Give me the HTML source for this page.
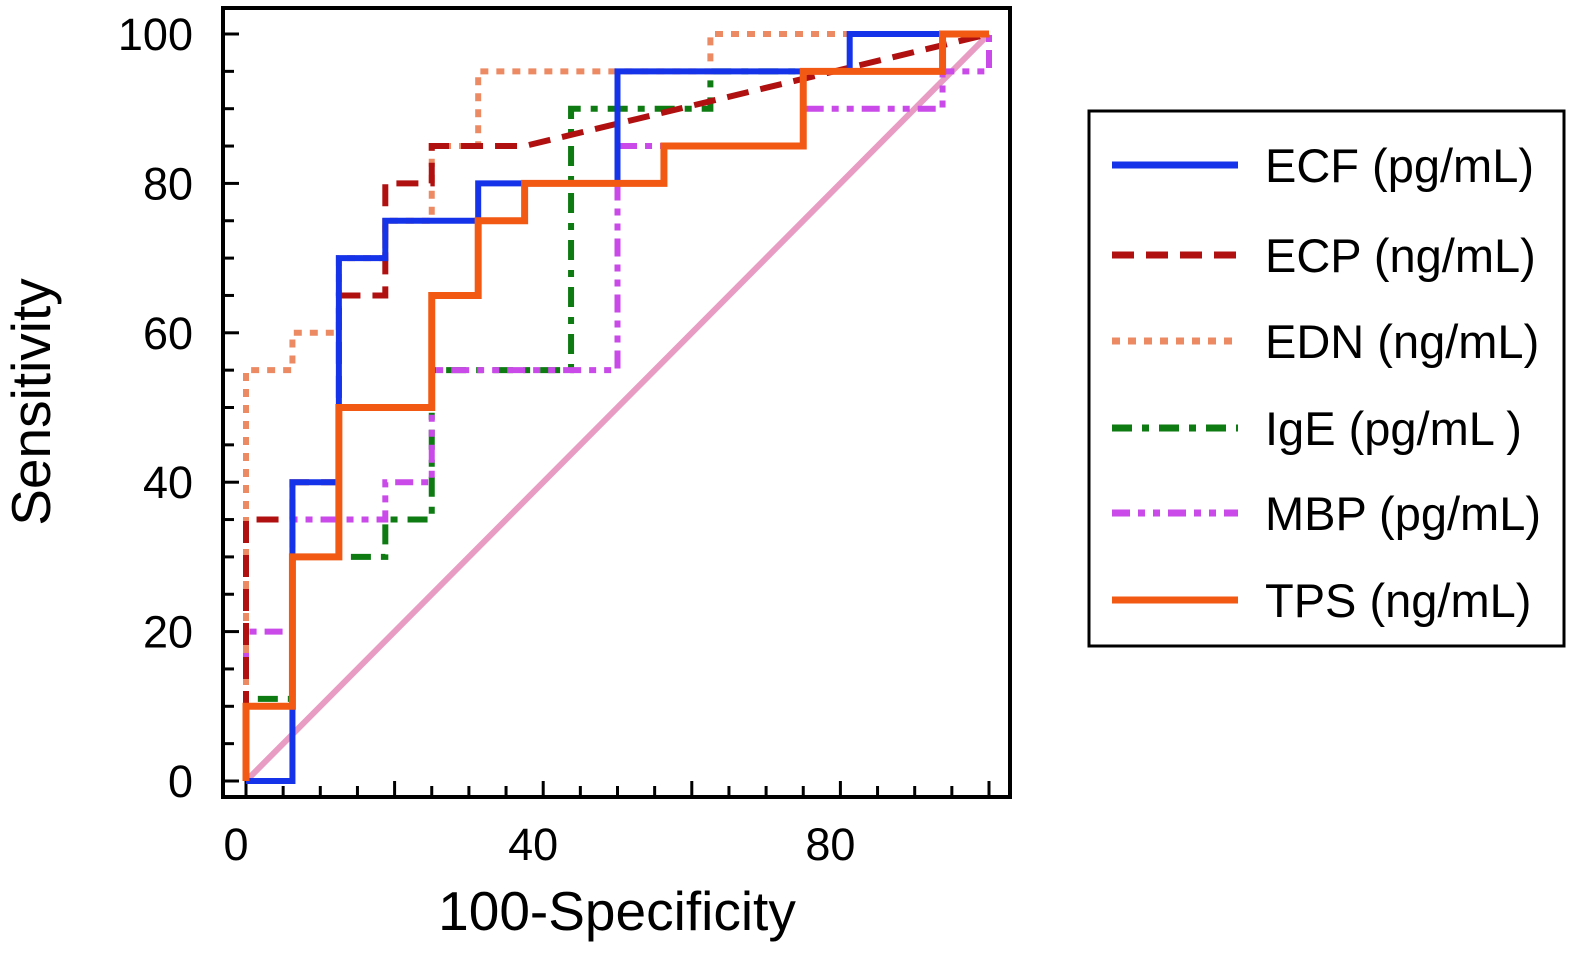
<!DOCTYPE html>
<html><head><meta charset="utf-8"><style>
body{margin:0;background:#fff;}
text{font-family:"Liberation Sans",Arial,sans-serif;fill:#000;}
</style></head><body>
<svg id="chart" width="1583" height="951" viewBox="0 0 1583 951" xmlns="http://www.w3.org/2000/svg">
<rect x="223" y="8" width="787" height="789" fill="none" stroke="#000" stroke-width="4"/>
<g id="ticks"></g>
<line id="diag" stroke="#e89cc4" stroke-width="6"/>
<g id="series"></g>
<text x="617" y="930" font-size="55" text-anchor="middle">100-Specificity</text>
<text transform="translate(50,402) rotate(-90)" font-size="55" text-anchor="middle">Sensitivity</text>
<g>
<rect x="1089" y="111" width="475" height="535" fill="#fff" stroke="#000" stroke-width="3"/>
<g id="legend"></g>
</g>
</svg>
<script>
const xTicks=[0,40,80];
const yTicks=[0,20,40,60,80,100];
const seriesNames=["ECF (pg/mL)","ECP (ng/mL)","EDN (ng/mL)","IgE (pg/mL )","MBP (pg/mL)","TPS (ng/mL)"];
const ecf=[[0,0],[6.25,0],[6.25,40],[12.5,40],[12.5,70],[18.75,70],[18.75,75],[31.25,75],[31.25,80],[50,80],[50,95],[81.25,95],[81.25,100],[100,100]];
const ecp=[[0,0],[0,35],[6.25,35],[6.25,40],[12.5,40],[12.5,65],[18.75,65],[18.75,80],[25,80],[25,85],[37.5,85],[50,88],[62.5,91],[75,94],[87.5,97],[100,100]];
const edn=[[0,0],[0,55],[6.25,55],[6.25,60],[12.5,60],[12.5,70],[18.75,70],[18.75,75],[25,75],[25,85],[31.25,85],[31.25,95],[62.5,95],[62.5,100],[100,100]];
const ige=[[0,0],[0,11],[6.25,11],[6.25,30],[18.75,30],[18.75,35],[25,35],[25,55],[43.75,55],[43.75,90],[62.5,90],[62.5,95],[93.75,95],[93.75,100],[100,100]];
const mbp=[[0,0],[0,20],[6.25,20],[6.25,35],[18.75,35],[18.75,40],[25,40],[25,55],[50,55],[50,85],[75,85],[75,90],[93.75,90],[93.75,95],[100,95],[100,100]];
const tps=[[0,0],[0,10],[6.25,10],[6.25,30],[12.5,30],[12.5,50],[25,50],[25,65],[31.25,65],[31.25,75],[37.5,75],[37.5,80],[56.25,80],[56.25,85],[75,85],[75,95],[93.75,95],[93.75,100],[100,100]];
const NS="http://www.w3.org/2000/svg";
const X=v=>246+v*7.43, Y=v=>781-v*7.47;
const styles=[
 {d:ecf,c:"#1533e8",w:6,da:""},
 {d:ecp,c:"#b01010",w:6,da:"22 12"},
 {d:edn,c:"#ec8a64",w:6,da:"8 8"},
 {d:ige,c:"#0d7a12",w:6,da:"20 10 7 10"},
 {d:mbp,c:"#c94ae8",w:6,da:"18 8 7 8 7 8"},
 {d:tps,c:"#f25a14",w:7,da:""}];
const keys=["ecf","ecp","edn","ige","mbp","tps"];
const diag=document.getElementById('diag');
diag.setAttribute('x1',X(0));diag.setAttribute('y1',Y(0));diag.setAttribute('x2',X(100));diag.setAttribute('y2',Y(100));
const tg=document.getElementById('ticks');
for(let v=0;v<=100;v+=5){
 const maj=v%20===0, L=maj?16:11;
 let l=document.createElementNS(NS,'line');
 
 
 l.setAttribute('x1',X(v));l.setAttribute('x2',X(v));l.setAttribute('y1',797);l.setAttribute('y2',797-L);
 l.setAttribute('stroke','#000');l.setAttribute('stroke-width',3);tg.appendChild(l);
 let m=document.createElementNS(NS,'line');
 
 
 m.setAttribute('y1',Y(v));m.setAttribute('y2',Y(v));m.setAttribute('x1',223);m.setAttribute('x2',223+L);
 m.setAttribute('stroke','#000');m.setAttribute('stroke-width',3);tg.appendChild(m);
}
xTicks.forEach(v=>{let t=document.createElementNS(NS,'text');
 
 
 t.setAttribute('x',X(v)-10);t.setAttribute('y',860);t.setAttribute('font-size',45);t.setAttribute('text-anchor','middle');t.textContent=v;tg.appendChild(t);});
yTicks.forEach(v=>{let t=document.createElementNS(NS,'text');
 
 
 t.setAttribute('x',193);t.setAttribute('y',Y(v)+16);t.setAttribute('font-size',45);t.setAttribute('text-anchor','end');t.textContent=v;tg.appendChild(t);});
const sg=document.getElementById('series'), lg=document.getElementById('legend');
const order=[3,4,2,1,0,5];
order.forEach(i=>{const s=styles[i];
 let p=document.createElementNS(NS,'polyline');
 
 
 p.setAttribute('points',s.d.map(q=>X(q[0])+','+Y(q[1])).join(' '));
 p.setAttribute('fill','none');p.setAttribute('stroke',s.c);p.setAttribute('stroke-width',s.w);
 if(s.da)p.setAttribute('stroke-dasharray',s.da);sg.appendChild(p);});
const ly=[165,255,341,428,513,600];
styles.forEach((s,i)=>{
 let l=document.createElementNS(NS,'line');
 
 
 l.setAttribute('x1',1112);l.setAttribute('x2',1238);l.setAttribute('y1',ly[i]);l.setAttribute('y2',ly[i]);
 l.setAttribute('stroke',s.c);l.setAttribute('stroke-width',7);if(s.da)l.setAttribute('stroke-dasharray',s.da);lg.appendChild(l);
 let t=document.createElementNS(NS,'text');
 
 
 t.setAttribute('x',1265);t.setAttribute('y',ly[i]+17);t.setAttribute('font-size',47);t.textContent=seriesNames[i];lg.appendChild(t);});
</script>
</body></html>
